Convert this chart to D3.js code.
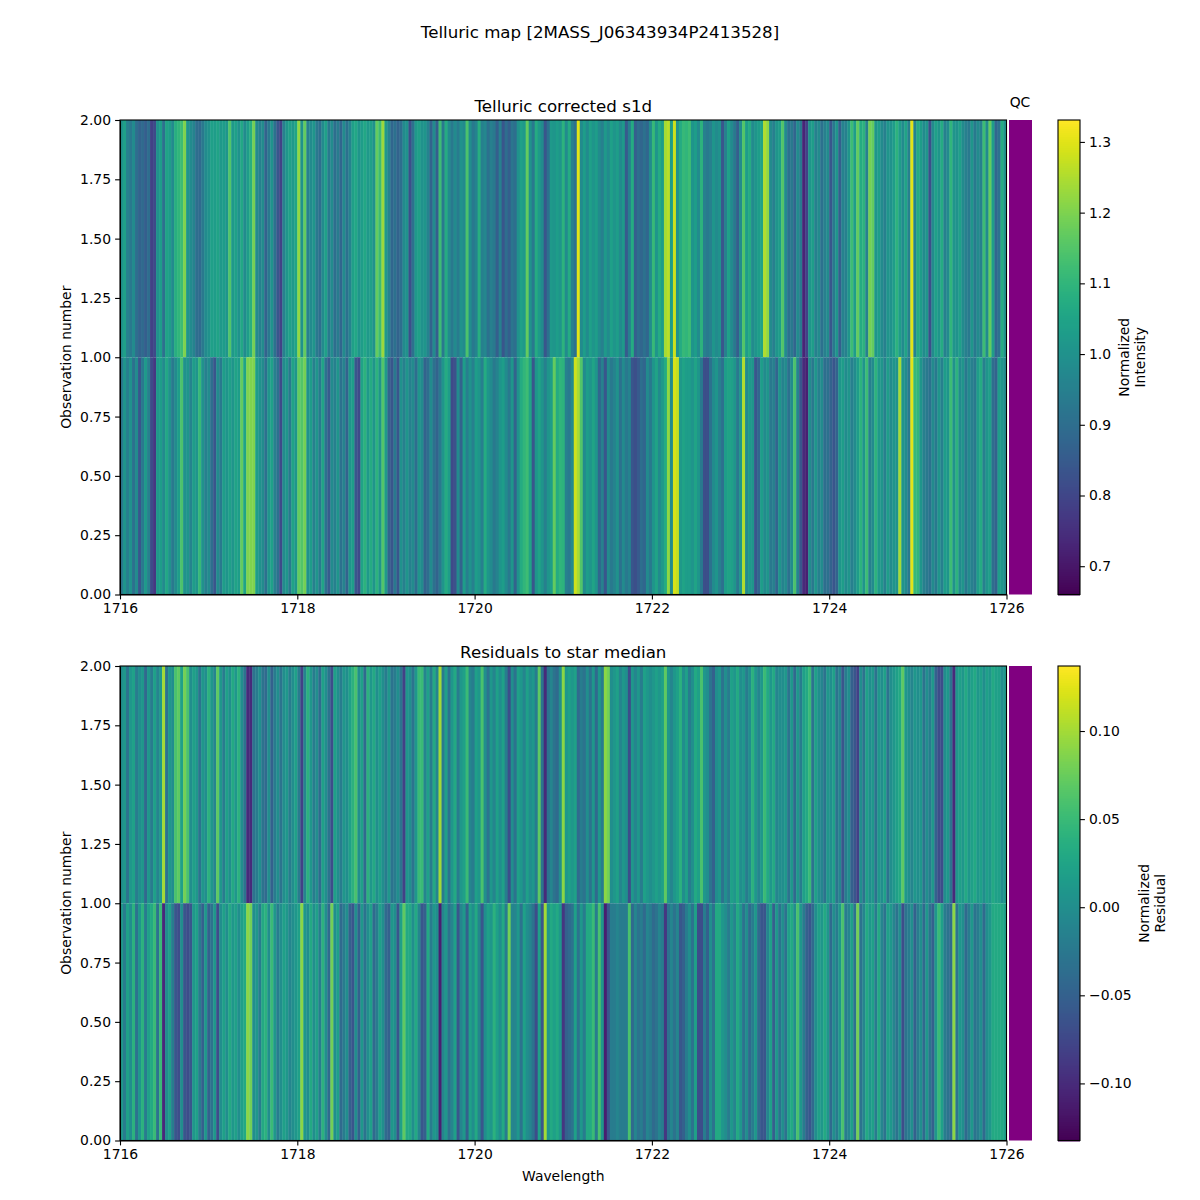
<!DOCTYPE html>
<html lang="en">
<head>
<meta charset="utf-8">
<script src="https://d3js.org/d3.v7.min.js"></script>
<style>
  body { margin: 0; background: #fff; }
  text { font-family: "DejaVu Sans", sans-serif; fill: #000; }
</style>
</head>
<body>
<div id="my_dataviz"></div>
<script>
// flux per column: obs 2 is the row from 1 to 2, obs 1 the row from 0 to 1
var intensityObs2 = [
  1.0,1.04,0.95,0.93,0.98,0.9,0.87,0.89,0.86,0.9,0.79,0.81,1.0,1.03,0.91,1.05,1.03,0.98,1.08,1.1,
  1.12,1.2,1.01,0.98,0.96,0.9,0.89,0.93,0.98,1.0,1.04,1.03,1.05,1.02,1.03,1.01,1.15,1.02,1.04,1.0,
  1.06,0.98,1.03,1.08,1.19,0.98,0.95,0.98,0.87,0.93,1.0,0.91,0.84,0.79,0.95,1.01,1.04,1.02,1.05,1.22,
  1.0,1.17,0.95,0.98,1.01,0.93,0.9,0.98,1.04,0.93,0.98,0.9,0.94,0.88,0.98,0.91,0.96,1.04,1.06,1.01,
  1.03,1.06,1.02,1.04,1.0,1.17,1.12,1.23,1.02,0.96,0.88,0.91,0.87,0.9,0.98,1.0,
  0.82,0.91,1.02,1.04,1.0,1.01,0.96,0.87,0.98,0.86,1.12,0.93,1.07,0.98,0.93,0.98,0.94,1.0,0.98,1.14,
  0.99,0.93,0.96,1.08,0.95,0.97,0.91,0.95,0.93,0.86,0.95,0.84,0.9,0.86,0.92,0.9,1.0,1.04,1.02,1.17,
  1.0,0.93,1.07,1.02,0.98,0.84,0.91,1.02,1.01,1.03,1.01,1.09,0.98,1.07,0.95,0.91,1.3,0.98,1.03,0.98,
  1.04,1.01,1.03,0.98,0.95,1.02,0.98,1.04,1.01,1.03,0.98,1.02,0.85,0.95,1.07,0.86,0.9,0.88,0.91,0.88,
  0.98,1.11,1.01,1.07,1.03,1.24,1.26,1.03,1.28,1.0,1.07,1.11,1.1,1.12,1.01,1.03,0.98,1.09,0.95,0.93,
  0.95,1.01,0.98,1.0,0.84,0.95,1.04,0.98,0.93,0.86,0.98,1.15,1.03,1.07,0.98,1.01,1.03,1.05,1.25,1.22,
  0.98,0.95,1.01,1.03,1.15,0.98,0.91,0.93,0.88,0.98,0.93,0.73,0.79,1.01,1.03,0.95,0.98,0.91,0.95,0.98,
  0.84,0.93,1.01,0.86,0.96,0.95,1.01,1.12,1.03,1.17,1.07,1.09,0.95,1.19,1.17,1.01,1.03,0.98,0.95,1.01,
  1.0,1.03,1.09,1.03,0.98,1.05,0.95,1.3,0.96,1.07,1.03,0.98,1.01,0.82,0.98,1.04,1.01,1.07,0.95,0.98,
  1.1,1.01,1.0,1.04,0.98,0.95,0.93,1.01,0.93,0.98,0.95,1.12,0.98,1.17,1.03,0.88,0.91,1.07,1.0
];
var intensityObs1 = [
  0.93,1.01,0.95,1.0,0.91,0.98,0.84,0.93,1.02,0.95,0.81,0.77,1.02,1.03,0.98,1.06,1.0,0.93,0.98,1.03,
  1.14,1.0,1.01,0.96,1.03,1.01,1.11,1.0,0.95,0.98,0.9,0.84,0.98,0.93,1.03,1.01,1.04,1.01,1.05,1.03,
  1.17,1.05,1.2,1.2,1.2,1.03,1.0,0.98,0.91,1.01,1.04,0.95,0.91,0.81,0.98,1.01,0.93,1.05,1.01,1.17,
  1.15,1.19,1.0,1.03,0.95,1.01,0.93,1.05,0.91,0.85,0.98,0.95,1.01,0.91,0.96,0.87,1.01,1.03,0.84,0.81,
  1.05,1.09,1.02,1.07,1.01,1.09,1.01,1.15,1.02,0.87,0.84,0.93,0.84,1.0,0.95,1.01,
  0.95,0.98,0.9,1.01,0.98,0.87,0.9,0.98,0.91,0.87,0.93,1.01,1.07,1.03,0.81,0.83,0.98,0.87,1.03,0.95,
  1.0,0.95,1.03,1.01,0.95,1.07,1.01,0.98,0.93,0.96,1.01,1.03,0.98,0.93,1.01,0.87,1.0,1.07,1.1,1.12,
  1.05,0.84,1.01,1.05,1.01,0.95,1.01,1.03,1.17,1.07,1.1,1.09,0.95,0.93,0.98,1.28,1.24,1.15,0.98,1.03,
  1.01,1.05,1.01,0.88,0.95,0.84,0.98,0.93,0.96,1.0,0.91,0.98,0.93,0.96,0.84,0.82,0.85,0.9,0.88,0.98,
  0.93,1.01,1.05,0.98,1.02,1.07,1.22,0.98,1.29,1.27,1.02,1.05,1.03,1.03,1.01,1.05,1.01,0.93,0.82,0.82,
  0.91,0.98,1.01,0.95,0.91,1.03,1.05,1.04,1.01,0.93,1.01,1.25,0.98,1.02,1.01,0.84,0.88,1.03,0.98,1.01,
  0.93,0.95,0.88,1.01,0.96,0.98,0.91,0.98,1.14,0.96,0.84,0.74,0.72,0.98,0.93,1.01,0.95,0.98,0.9,0.91,
  0.87,0.84,0.87,1.01,1.03,0.98,1.01,0.95,0.98,1.03,1.09,1.01,1.12,0.95,0.98,1.09,1.02,1.01,0.95,1.03,
  0.98,1.01,1.0,1.24,1.01,0.98,0.93,1.3,1.11,1.1,1.01,0.95,0.93,0.91,0.98,0.93,1.01,0.95,1.03,1.01,
  1.12,1.0,1.09,0.98,1.01,0.93,0.98,0.95,0.93,1.03,1.07,0.95,1.01,1.04,0.9,0.87,1.03,1.01,0.98
];
var residualObs2 = [
  0.0,0.01,-0.03,0.01,0.02,-0.02,0.0,0.01,-0.04,0.01,-0.02,0.02,-0.01,0.01,0.1,-0.03,0.01,0.0,0.06,0.07,
  0.02,0.08,0.06,0.0,0.02,0.01,-0.03,0.01,0.0,0.04,0.01,-0.01,0.07,0.01,-0.02,0.02,0.0,0.03,0.01,0.04,
  0.0,-0.03,-0.1,-0.1,-0.03,-0.02,0.0,-0.03,-0.04,0.0,-0.05,-0.02,0.0,-0.03,0.0,0.01,-0.02,0.0,0.02,-0.02,
  -0.08,-0.01,0.04,0.01,-0.02,0.0,-0.04,0.02,0.0,-0.03,-0.07,0.02,0.0,-0.02,0.01,0.0,0.02,0.04,0.06,0.0,
  0.02,-0.04,0.04,0.01,0.03,0.0,0.02,0.0,-0.02,0.01,-0.03,-0.02,0.0,-0.03,-0.08,0.01,
  0.0,-0.03,0.01,0.05,0.05,-0.01,0.02,-0.02,0.03,-0.01,0.1,-0.02,0.02,-0.03,0.01,0.03,-0.02,0.01,0.02,0.05,
  -0.01,-0.02,0.02,0.01,0.06,0.0,-0.03,0.01,-0.01,0.02,0.0,0.02,-0.02,-0.07,0.0,-0.03,0.02,0.01,-0.01,0.02,
  0.0,0.01,-0.02,0.07,-0.03,-0.1,-0.03,-0.01,-0.03,-0.04,0.0,0.09,0.01,0.02,0.01,0.02,-0.04,-0.02,-0.03,0.0,
  -0.03,0.01,-0.04,0.01,-0.02,0.09,0.08,0.0,0.01,0.02,-0.01,0.01,0.0,-0.07,0.01,-0.01,0.01,-0.02,0.02,0.01,
  0.0,0.01,0.02,0.01,0.02,0.07,0.01,-0.01,0.01,0.02,0.04,0.0,0.02,-0.02,0.0,0.03,0.02,0.06,0.01,0.0,
  -0.03,-0.05,0.0,0.01,-0.03,0.0,-0.02,0.02,0.01,0.03,0.0,0.01,-0.02,0.0,0.04,0.01,-0.01,0.01,0.05,0.03,
  0.01,0.03,-0.01,0.0,0.0,0.01,-0.03,0.01,-0.04,0.01,-0.02,0.02,0.03,0.05,-0.03,0.02,0.0,-0.01,-0.03,0.01,
  0.0,0.02,-0.03,-0.01,-0.06,-0.02,0.0,-0.05,-0.06,-0.08,0.0,-0.03,0.02,0.0,0.01,-0.03,0.01,0.0,0.02,-0.03,
  0.0,0.01,0.02,0.03,0.07,0.01,0.0,-0.01,0.01,0.0,0.01,-0.03,0.0,-0.02,0.01,-0.05,-0.07,-0.07,0.0,0.01,
  -0.03,-0.1,0.01,0.02,0.01,0.03,0.01,0.02,0.03,0.01,0.02,0.0,0.02,0.01,0.03,0.02,0.02,0.0,0.01
];
var residualObs1 = [
  0.01,-0.02,0.02,0.0,0.04,-0.03,0.01,0.04,-0.02,0.02,0.03,0.05,-0.03,0.05,-0.1,0.0,0.02,-0.02,-0.06,-0.07,
  0.0,-0.06,-0.07,-0.06,0.01,0.02,-0.02,-0.05,0.01,-0.05,-0.03,0.01,-0.07,0.0,0.02,0.0,0.03,0.01,0.02,0.0,
  0.02,0.03,0.09,0.08,0.0,0.01,-0.02,0.03,0.04,0.0,0.05,0.01,-0.02,0.0,0.02,0.01,-0.01,0.0,0.01,0.02,
  0.09,0.01,0.0,0.03,0.0,0.02,-0.02,0.04,0.0,-0.04,0.08,0.0,0.02,-0.04,-0.02,0.0,-0.05,-0.06,0.0,-0.05,
  0.01,-0.03,0.0,0.02,-0.04,-0.02,0.02,0.0,-0.04,-0.05,0.01,0.0,-0.06,0.02,0.07,0.03,
  0.03,0.0,0.03,-0.01,-0.06,-0.05,0.03,-0.02,0.01,0.0,-0.11,-0.01,0.01,-0.03,-0.01,0.02,-0.06,-0.01,0.01,-0.05,
  0.02,0.0,0.03,-0.01,-0.06,0.0,0.02,0.01,0.04,0.02,0.0,0.03,-0.02,0.08,-0.01,-0.01,0.01,-0.03,0.02,0.0,
  -0.01,-0.03,-0.07,0.02,-0.06,0.1,0.01,0.03,0.02,0.03,0.01,-0.09,-0.05,-0.04,-0.03,0.02,-0.03,0.01,-0.02,0.03,
  0.03,0.05,-0.02,0.06,0.01,-0.11,-0.06,-0.02,-0.02,-0.01,-0.02,-0.02,-0.02,0.06,-0.04,-0.01,-0.03,-0.02,-0.04,-0.01,
  -0.02,-0.04,-0.03,-0.01,-0.02,-0.09,-0.03,-0.01,-0.03,-0.01,-0.06,-0.05,-0.02,0.0,-0.03,0.02,-0.07,-0.07,-0.02,-0.05,
  0.0,-0.03,0.03,0.03,0.01,0.0,-0.02,0.01,-0.01,0.03,0.01,-0.03,0.0,-0.04,-0.02,0.01,-0.04,-0.06,-0.06,-0.01,
  0.02,-0.05,0.01,-0.03,0.0,-0.03,0.02,0.03,0.0,0.06,0.01,-0.02,-0.05,-0.06,-0.04,0.0,0.02,0.01,0.03,0.01,
  -0.04,0.0,-0.02,0.01,0.06,-0.02,-0.01,0.02,-0.03,0.08,-0.03,-0.01,0.03,0.01,0.02,-0.02,0.03,-0.01,-0.03,0.02,
  0.01,-0.01,-0.03,0.0,-0.07,-0.03,-0.02,0.0,-0.05,-0.02,0.0,-0.04,0.01,-0.03,-0.05,0.01,0.05,0.02,-0.02,-0.03,
  -0.04,0.09,-0.03,0.01,0.0,-0.04,-0.02,0.01,-0.03,-0.02,0.0,-0.04,0.0,0.01,0.03,0.03,0.03,0.03,0.02
];

var wavelengthTicks = [1716, 1718, 1720, 1722, 1724, 1726];
var obsTicks = [0, 0.25, 0.5, 0.75, 1, 1.25, 1.5, 1.75, 2];
var intensityTicks = [0.7, 0.8, 0.9, 1.0, 1.1, 1.2, 1.3];
var residualTicks = [-0.10, -0.05, 0, 0.05, 0.10];

var svg = d3.select("#my_dataviz").append("svg")
  .attr("width", 1200).attr("height", 1200)
  .style("display", "block");

svg.append("text").attr("x", 600).attr("y", 38)
  .attr("text-anchor", "middle").style("font-size", "16.67px")
  .text("Telluric map [2MASS_J06343934P2413528]");

function drawPanel(top, rows, domain, cbTicks, cbFormat, title, cbLines, cbLabelX, showXLabel) {
  var left = 120, right = 1006.5, h = 474.5;

  var x = d3.scaleLinear().domain([1716, 1726]).range([left, right]);
  var y = d3.scaleLinear().domain([0, 2]).range([top + h, top]);
  var color = d3.scaleSequential(d3.interpolateViridis).domain(domain);

  // one strip of cells per observation
  rows.forEach(function(row) {
    var band = d3.scaleBand().domain(d3.range(row.values.length)).range([left, right]);
    svg.append("g").selectAll("rect")
      .data(row.values)
      .enter().append("rect")
        .attr("x", function(d, i) { return band(i); })
        .attr("y", y(row.y1))
        .attr("width", band.bandwidth() + 0.4)
        .attr("height", y(row.y0) - y(row.y1))
        .attr("fill", function(d) { return color(d); });
  });

  // QC strip
  svg.append("rect").attr("x", 1009).attr("y", top).attr("width", 23).attr("height", h)
    .attr("fill", "#800080");

  svg.append("g").attr("class", "axis")
    .attr("transform", "translate(0," + (top + h) + ")")
    .call(d3.axisBottom(x).tickValues(wavelengthTicks).tickFormat(d3.format("d")).tickSizeOuter(0));
  svg.append("g").attr("class", "axis")
    .attr("transform", "translate(" + left + ",0)")
    .call(d3.axisLeft(y).tickValues(obsTicks).tickFormat(d3.format(".2f")).tickSizeOuter(0));

  // frame
  svg.append("rect").attr("x", left).attr("y", top).attr("width", right - left).attr("height", h)
    .attr("fill", "none").attr("stroke", "#000").attr("stroke-width", 1.1);

  svg.append("text").attr("x", (left + right) / 2).attr("y", top - 8)
    .attr("text-anchor", "middle").style("font-size", "16.67px").text(title);

  svg.append("text").attr("transform", "translate(71," + (top + h / 2) + ") rotate(-90)")
    .attr("text-anchor", "middle").style("font-size", "13.9px").text("Observation number");

  if (showXLabel) {
    svg.append("text").attr("x", (left + right) / 2).attr("y", top + h + 40)
      .attr("text-anchor", "middle").style("font-size", "13.9px").text("Wavelength");
  }

  // colorbar
  var cbLeft = 1058, cbW = 22;
  var cbY = d3.scaleLinear().domain(domain).range([top + h, top]);
  var cbSteps = d3.range(0, h);
  svg.append("g").selectAll("rect")
    .data(cbSteps)
    .enter().append("rect")
      .attr("x", cbLeft).attr("y", function(d) { return top + d; })
      .attr("width", cbW).attr("height", 1.5)
      .attr("fill", function(d) { return color(cbY.invert(top + d + 0.5)); });
  svg.append("rect").attr("x", cbLeft).attr("y", top).attr("width", cbW).attr("height", h)
    .attr("fill", "none").attr("stroke", "#000").attr("stroke-width", 1.1);
  svg.append("g").attr("class", "axis")
    .attr("transform", "translate(" + (cbLeft + cbW) + ",0)")
    .call(d3.axisRight(cbY).tickValues(cbTicks).tickFormat(cbFormat).tickSizeOuter(0))
    .select(".domain").remove();

  cbLines.forEach(function(line, i) {
    svg.append("text")
      .attr("transform", "translate(" + (cbLabelX + i * 16) + "," + (top + h / 2) + ") rotate(-90)")
      .attr("text-anchor", "middle").style("font-size", "13.9px").text(line);
  });

  svg.selectAll(".axis .domain").attr("stroke", "#000").attr("stroke-width", 1.1);
  svg.selectAll(".axis .tick line").attr("stroke", "#000").attr("stroke-width", 1.1)
    .each(function() {
      var l = d3.select(this);
      if (l.attr("y2")) l.attr("y2", 4.9);
      if (l.attr("x2")) l.attr("x2", +l.attr("x2") < 0 ? -4.9 : 4.9);
    });
  svg.selectAll(".axis .tick text").style("font-size", "13.9px")
    .style("font-family", '"DejaVu Sans", sans-serif');
}

drawPanel(120,
  [{ y0: 1, y1: 2, values: intensityObs2 }, { y0: 0, y1: 1, values: intensityObs1 }],
  [0.66, 1.331], intensityTicks, d3.format(".1f"),
  "Telluric corrected s1d", ["Normalized", "Intensity"], 1129, false);

drawPanel(666,
  [{ y0: 1, y1: 2, values: residualObs2 }, { y0: 0, y1: 1, values: residualObs1 }],
  [-0.1324, 0.1369], residualTicks, function(d) { return d3.format(".2f")(d).replace("-", "\u2212"); },
  "Residuals to star median", ["Normalized", "Residual"], 1149, true);

svg.append("text").attr("x", 1020).attr("y", 107)
  .attr("text-anchor", "middle").style("font-size", "13.9px").text("QC");
</script>
</body>
</html>
